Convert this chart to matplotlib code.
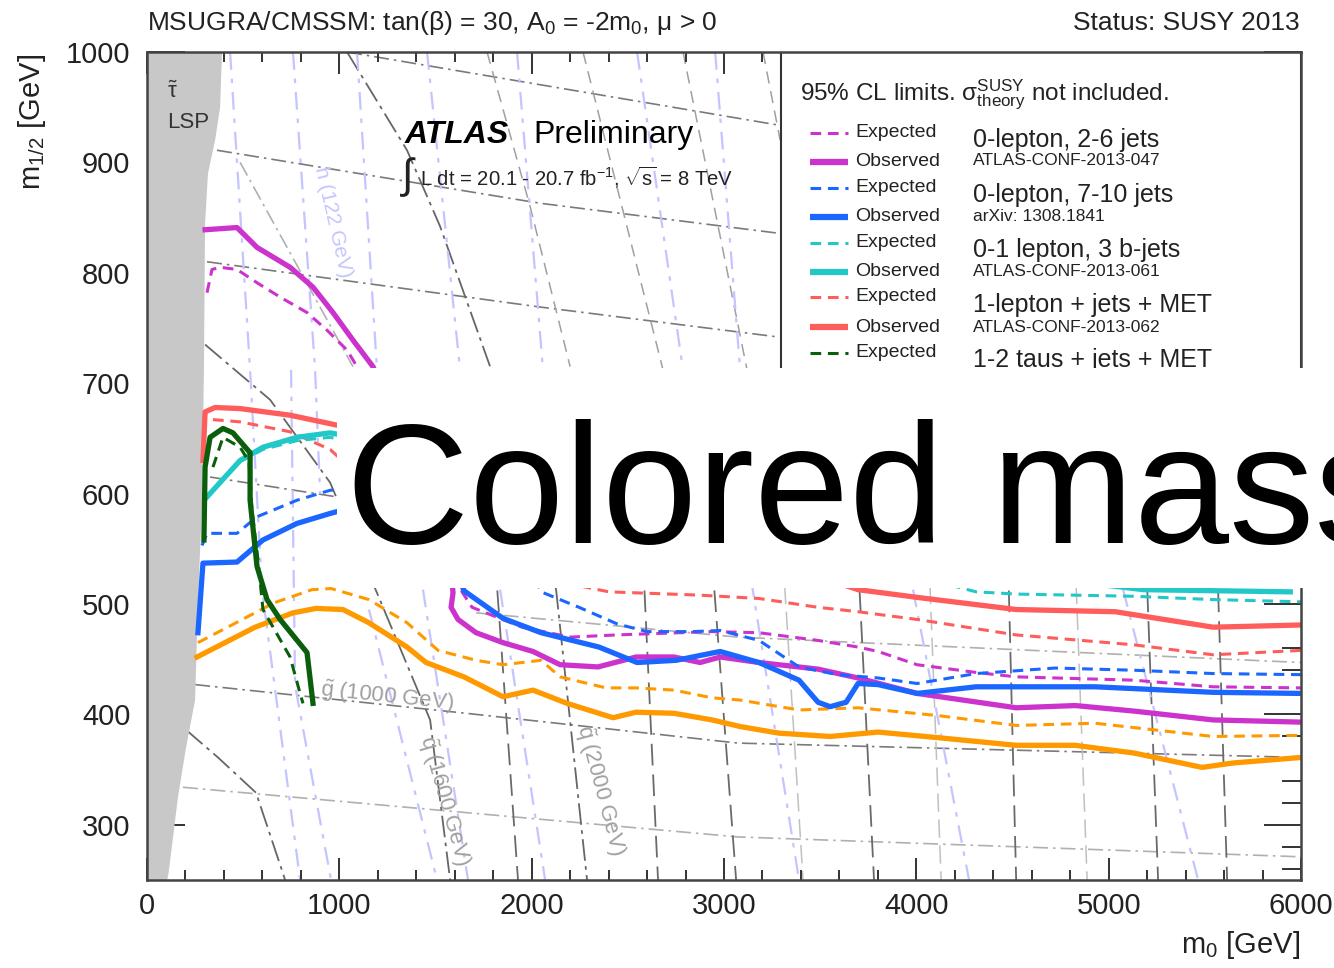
import matplotlib
matplotlib.use('Agg')
import matplotlib.pyplot as plt
from matplotlib.patches import Rectangle, Polygon
from matplotlib.ticker import MultipleLocator, FixedLocator

plt.rcParams['font.family'] = ['Liberation Sans', 'DejaVu Sans']
plt.rcParams['mathtext.fontset'] = 'custom'
plt.rcParams['mathtext.rm'] = 'Liberation Sans'
plt.rcParams['mathtext.it'] = 'Liberation Sans:italic'
plt.rcParams['mathtext.bf'] = 'Liberation Sans:bold'
plt.rcParams['mathtext.default'] = 'regular'

# ---------------- data (m0, m1/2 in GeV) ----------------
x_ticks = [0, 1000, 2000, 3000, 4000, 5000, 6000]
y_ticks = [300, 400, 500, 600, 700, 800, 900, 1000]

lsp_m0 = [0, 390, 380, 354, 317, 302, 296, 286, 265, 250, 203, 161, 112, 105, 0]
lsp_m12 = [1000, 1000, 950, 920, 890, 845, 712, 591, 501, 413, 370, 325, 256, 250, 250]

mag_obs_m0 = [302, 468, 572, 744, 863, 967, 1071, 1175, 1316, 1524, 1586, 1591, 1581, 1617, 1711,
              1851, 2007, 2148, 2345, 2543, 2740, 2876, 2980, 3182, 3489, 3697, 4004, 4519, 4826,
              5132, 5543, 6000]
mag_obs_m12 = [839, 841, 823, 805, 787, 764, 739, 715, 658, 576, 522, 510, 497, 486, 474,
               465, 457, 445, 443, 452, 452, 447, 452, 447, 441, 433, 419, 406, 408,
               403, 395, 393]
mag_exp_m0 = [312, 338, 380, 468, 572, 692, 832, 936, 1040, 1092, 1316, 1576, 1638, 1690, 1950,
              2200, 2444, 2938, 3182, 3489, 3697, 3801, 4004, 4311, 4519, 5132, 5543, 6000]
mag_exp_m12 = [782, 803, 805, 803, 791, 778, 764, 748, 730, 715, 640, 540, 511, 497, 479,
               470, 472, 475, 474, 467, 461, 457, 445, 438, 434, 431, 425, 424]

blue_obs_m0 = [265, 291, 468, 603, 780, 952, 1316, 1524, 1648, 1851, 2049, 2350, 2548, 2751, 2980,
               3182, 3390, 3489, 3552, 3635, 3697, 3801, 4004, 4311, 4930, 5543, 6000]
blue_obs_m12 = [474, 537, 538, 558, 573, 582, 599, 570, 512, 487, 474, 461, 447, 449, 457,
                447, 431, 411, 407, 411, 428, 427, 419, 425, 425, 420, 419]
blue_exp_m0 = [286, 312, 468, 572, 780, 952, 1576, 1940, 2049, 2246, 2444, 2600, 2839, 2980, 3182,
               3390, 3593, 3801, 4004, 4311, 4722, 5132, 5543, 6000]
blue_exp_m12 = [553, 564, 564, 579, 594, 603, 612, 558, 511, 497, 482, 475, 475, 476, 467,
                443, 436, 433, 428, 437, 442, 440, 437, 436]

cyan_obs_m0 = [312, 484, 603, 780, 952, 2876, 4750, 5179, 5944]
cyan_obs_m12 = [597, 630, 642, 651, 655, 594, 522, 513, 511]
cyan_exp_m0 = [484, 603, 780, 952, 2876, 4311, 4519, 5132, 5543, 6000]
cyan_exp_m12 = [629, 640, 648, 651, 576, 511, 509, 507, 504, 502]

red_obs_m0 = [291, 302, 354, 484, 744, 988, 2356, 3697, 4004, 4519, 5034, 5543, 6000]
red_obs_m12 = [630, 674, 678, 677, 671, 662, 590, 513, 506, 495, 493, 479, 481]
red_exp_m0 = [343, 484, 744, 952, 1576, 2402, 2876, 3182, 3489, 3697, 4004, 4519, 5132, 5543, 6000]
red_exp_m12 = [667, 665, 656, 640, 540, 511, 508, 505, 497, 493, 486, 472, 463, 454, 458]

orange_obs_m0 = [260, 562, 759, 879, 1019, 1154, 1352, 1451, 1648, 1851, 2007, 2184, 2423, 2543,
                 2740, 2938, 3084, 3286, 3552, 3801, 4108, 4519, 4826, 5132, 5486, 5647, 6000]
orange_obs_m12 = [452, 479, 492, 496, 495, 483, 461, 447, 434, 416, 422, 410, 397, 402,
                  401, 395, 389, 383, 380, 384, 379, 372, 372, 365, 352, 356, 361]
orange_exp_m0 = [265, 463, 660, 858, 957, 1154, 1352, 1513, 1711, 1851, 2049, 2148, 2387, 2543,
                 2740, 2938, 3084, 3390, 3697, 4108, 4519, 4930, 5236, 5543, 6000]
orange_exp_m12 = [465, 483, 501, 513, 514, 504, 483, 458, 449, 445, 449, 434, 424, 424,
                  422, 415, 413, 404, 406, 399, 390, 392, 386, 380, 381]

green_obs_m0 = [296, 302, 328, 395, 447, 536, 536, 572, 624, 692, 832, 863]
green_obs_m12 = [558, 624, 651, 659, 655, 637, 594, 534, 504, 486, 456, 410]
green_exp_m0 = [343, 395, 484, 530, 546, 577, 603, 744, 796, 811]
green_exp_m12 = [624, 651, 642, 629, 585, 540, 495, 452, 419, 410]

# background iso-mass contours (gluino / squark / Higgs)
gluino_lines = [
    ([1040, 3276], [1000, 934]),
    ([364, 2044, 3276], [911, 863, 836]),
    ([312, 2044, 3276], [810, 769, 742]),
    ([328, 988, 1524], [615, 597, 576]),
    ([250, 1659, 3073, 6000], [427, 401, 374, 361]),
]
gluino_faint = [
    ([1711, 3073, 6000], [492, 470, 447]),
    ([187, 3073, 6000], [334, 289, 271]),
    ([484, 1071], [900, 715]),
]
squark_lines = [
    ([1040, 1352, 1524, 1784, 2127, 2288], [1000, 911, 842, 715, 513, 250]),
    ([302, 640, 952, 1196, 1472, 1576], [735, 685, 610, 510, 395, 250]),
    ([203, 369, 567, 707, 718], [386, 361, 329, 256, 250]),
]
upper_dashed = [
    ([1768, 1992, 2200], [1000, 860, 715]),
    ([2267, 2683], [1000, 712]),
    ([2787, 3120], [1000, 712]),
    ([3203, 3292], [1000, 920]),
]
lower_dashed = [
    ([1810, 1929], [540, 250]), ([2579, 2657], [540, 250]), ([2938, 3063], [540, 250]),
    ([3697, 3780], [540, 250]), ([4477, 4519], [540, 250]), ([5195, 5257], [540, 250]),
    ([5564, 5616], [540, 250]),
]
lower_dashed_faint = [
    ([3307, 3411], [540, 250]), ([4066, 4129], [540, 250]), ([4826, 4888], [540, 250]),
]
higgs_lines = [
    ([432, 536, 598, 796], [1000, 712, 513, 250]),
    ([759, 874, 900], [1000, 712, 600]),
    ([749, 770, 957], [712, 426, 250]),
    ([1092, 1196], [1000, 712]),
    ([1456, 1628], [1000, 712]),
    ([1924, 2059], [1000, 712]),
    ([2548, 2787], [1000, 712]),
    ([2954, 3084], [1000, 712]),
    ([1154, 1508], [495, 250]),
    ([1435, 1669], [513, 250]),
    ([1836, 2070], [513, 250]),
    ([3141, 3390], [522, 250]),
    ([3983, 4274], [513, 250]),
    ([5075, 5465], [513, 250]),
]

legend_labels = ['Expected', 'Observed'] * 5
legend_colors = ['#cc33cc', '#cc33cc', '#1a66ff', '#1a66ff', '#22c8c8', '#22c8c8',
                 '#ff5c5c', '#ff5c5c', '#0b5e0b', '#0b5e0b']
analysis_names = ['0-lepton, 2-6 jets', '0-lepton, 7-10 jets', '0-1 lepton, 3 b-jets',
                  '1-lepton + jets + MET', '1-2 taus + jets + MET']
analysis_refs = ['ATLAS-CONF-2013-047', 'arXiv: 1308.1841', 'ATLAS-CONF-2013-061',
                 'ATLAS-CONF-2013-062', '']

# ---------------- figure ----------------
W, H = 1334, 968
fig = plt.figure(figsize=(W / 100, H / 100), dpi=100)
ax = fig.add_axes([147 / W, (H - 880) / H, 1154 / W, 828 / H])
ax.set_xlim(0, 6000)
ax.set_ylim(250, 1000)

def axf(px, py):
    return (px - 147) / 1154, (880 - py) / 828

gd = (0, (9, 3, 1.5, 3))
for xs, ys in gluino_lines:
    ax.plot(xs, ys, color='#7a7a7a', lw=1.2, ls=gd, zorder=1)
for xs, ys in gluino_faint:
    ax.plot(xs, ys, color='#b0b0b0', lw=1.2, ls=gd, zorder=1)
for xs, ys in squark_lines:
    ax.plot(xs, ys, color='#666666', lw=1.3, ls=(0, (12, 3, 2, 3)), zorder=1)
for xs, ys in upper_dashed:
    ax.plot(xs, ys, color='#a0a0a0', lw=1.1, ls=(0, (8, 5)), zorder=1)
for xs, ys in lower_dashed:
    ax.plot(xs, ys, color='#6a6a6a', lw=1.3, ls=(0, (12, 5)), zorder=1)
for xs, ys in lower_dashed_faint:
    ax.plot(xs, ys, color='#c0c0c0', lw=1.1, ls=(0, (12, 5)), zorder=1)
for xs, ys in higgs_lines:
    ax.plot(xs, ys, color='#c4c4ff', lw=1.6, ls=(0, (8, 4, 2, 4)), zorder=1)

ax.add_patch(Polygon(list(zip(lsp_m0, lsp_m12)), closed=True, facecolor='#c8c8c8',
                     edgecolor='none', zorder=3))

dash = (0, (3.5, 2.2))
obs_lw, exp_lw = 3.8, 2.2
curves = [
    (orange_exp_m0, orange_exp_m12, '#ff9900', dash, exp_lw),
    (orange_obs_m0, orange_obs_m12, '#ff9900', '-', obs_lw),
    (red_exp_m0, red_exp_m12, '#ff5c5c', dash, exp_lw),
    (red_obs_m0, red_obs_m12, '#ff5c5c', '-', obs_lw),
    (cyan_exp_m0, cyan_exp_m12, '#22c8c8', dash, exp_lw),
    (cyan_obs_m0, cyan_obs_m12, '#22c8c8', '-', obs_lw),
    (mag_exp_m0, mag_exp_m12, '#cc33cc', dash, exp_lw),
    (mag_obs_m0, mag_obs_m12, '#cc33cc', '-', obs_lw),
    (blue_exp_m0, blue_exp_m12, '#1a66ff', dash, exp_lw),
    (blue_obs_m0, blue_obs_m12, '#1a66ff', '-', obs_lw),
    (green_exp_m0, green_exp_m12, '#0b5e0b', dash, exp_lw),
    (green_obs_m0, green_obs_m12, '#0b5e0b', '-', obs_lw),
]
for i, (xs, ys, c, ls, lw) in enumerate(curves):
    ax.plot(xs, ys, color=c, ls=ls, lw=lw, zorder=4 + i * 0.01,
            solid_joinstyle='round', dash_joinstyle='round')

# in-plot labels
ax.text(135, 963, r'$\tilde{\tau}$', fontsize=16, color='#333333', ha='center', va='center', zorder=5)
ax.text(104, 936, 'LSP', fontsize=16, color='#333333', ha='left', va='center', zorder=5)
ax.text(967, 846, 'h (122 GeV)', fontsize=15, color='#c4c4ff', rotation=-77,
        ha='center', va='center', rotation_mode='anchor', zorder=2)
ax.text(1248, 416, r'$\tilde{g}$ (1000 GeV)', fontsize=16, color='#a0a0a0', rotation=-6,
        ha='center', va='center', rotation_mode='anchor', zorder=2)
ax.text(1544, 322, r'$\tilde{q}$ (1600 GeV)', fontsize=16, color='#a0a0a0', rotation=-74,
        ha='center', va='center', rotation_mode='anchor', zorder=2)
ax.text(2356, 331, r'$\tilde{q}$ (2000 GeV)', fontsize=16, color='#a0a0a0', rotation=-75,
        ha='center', va='center', rotation_mode='anchor', zorder=2)

ax.text(1342, 918, 'ATLAS', fontsize=23, fontweight='bold', fontstyle='italic',
        ha='left', va='baseline', zorder=5)
ax.text(2007, 918, 'Preliminary', fontsize=23, ha='left', va='baseline', zorder=5)
ax.text(1316, 887, r'$\int$', fontsize=30, ha='left', va='center', color='#222222', zorder=5)
ax.text(1420, 879, r'L dt = 20.1 - 20.7 fb$^{-1}$, $\sqrt{s}$ = 8 TeV', fontsize=14.6,
        ha='left', va='baseline', color='#222222', zorder=5)

# legend block
lx0, ly0 = axf(781, 470)
ax.add_patch(Rectangle((lx0, ly0), 1 - lx0, 1 - ly0, transform=ax.transAxes,
                       facecolor='white', edgecolor='#333333', lw=1.5, zorder=6))
tx, ty = axf(800, 95)
ax.text(tx, ty, r'95% CL limits. $\sigma^{SUSY}_{theory}$ not included.', transform=ax.transAxes,
        fontsize=17.5, ha='left', va='center', color='#222222', zorder=7)
row_py = [133, 162, 188, 217, 243, 272, 297, 327, 353, 382]
for lab, col, py in zip(legend_labels, legend_colors, row_py):
    x1, yy = axf(810, py)
    x2, _ = axf(848, py)
    xt, _ = axf(855, py)
    obs = lab == 'Observed'
    ax.plot([x1, x2], [yy, yy], transform=ax.transAxes, color=col,
            lw=4.5 if obs else 2.2, ls='-' if obs else (0, (3.5, 2.2)), zorder=7,
            solid_capstyle='butt')
    ax.text(xt, yy, lab, transform=ax.transAxes, fontsize=14, ha='left', va='center',
            color='#222222', zorder=7)
name_py = [140, 195, 250, 305, 360]
ref_py = [161, 217, 272, 327, 382]
for nm, rf, p1, p2 in zip(analysis_names, analysis_refs, name_py, ref_py):
    xa, ya = axf(973, p1)
    ax.text(xa, ya, nm, transform=ax.transAxes, fontsize=18, ha='left', va='center',
            color='#222222', zorder=7)
    xb, yb = axf(973, p2)
    ax.text(xb, yb, rf, transform=ax.transAxes, fontsize=12.5, ha='left', va='center',
            color='#222222', zorder=7)

# axes styling
ax.xaxis.set_major_locator(FixedLocator(x_ticks))
ax.yaxis.set_major_locator(FixedLocator(y_ticks))
ax.xaxis.set_minor_locator(MultipleLocator(200))
ax.yaxis.set_minor_locator(MultipleLocator(20))
ax.set_xticklabels([str(v) for v in x_ticks])
ax.set_yticklabels([str(v) for v in y_ticks])
ax.tick_params(which='both', direction='in', top=True, right=True, color='#333333',
               labelcolor='#222222')
ax.tick_params(axis='x', which='major', length=16, width=1.4, pad=9, labelsize=21)
ax.tick_params(axis='x', which='minor', length=7.5, width=1.4)
ax.tick_params(axis='y', which='major', length=27, width=1.4, pad=12, labelsize=21)
ax.tick_params(axis='y', which='minor', length=14, width=1.4)
for sp in ax.spines.values():
    sp.set_color('#444444')
    sp.set_linewidth(1.8)
    sp.set_zorder(8)

fig.text(1300 / W, 1 - 945 / H, r'm$_0$ [GeV]', fontsize=21, ha='right', va='center', color='#222222')
fig.text(32 / W, 1 - 122 / H, r'm$_{1/2}$ [GeV]', fontsize=21, rotation=90, ha='center',
         va='center', color='#222222')
fig.text(147 / W, 1 - 23 / H, r'MSUGRA/CMSSM: tan($\beta$) = 30, A$_0$ = -2m$_0$, $\mu$ > 0',
         fontsize=19, ha='left', va='center', color='#222222')
fig.text(1300 / W, 1 - 23 / H, 'Status: SUSY 2013', fontsize=19, ha='right', va='center',
         color='#222222')

# overlay box
fig.add_artist(Rectangle((337 / W, (H - 588) / H), (W - 337) / W, 220 / H,
                         transform=fig.transFigure, facecolor='white', edgecolor='none',
                         zorder=100))
fig.text(346 / W, 1 - 543 / H, 'Colored mass', fontsize=123, ha='left', va='baseline',
         color='black', zorder=101)

fig.savefig('out.png', dpi=100)
